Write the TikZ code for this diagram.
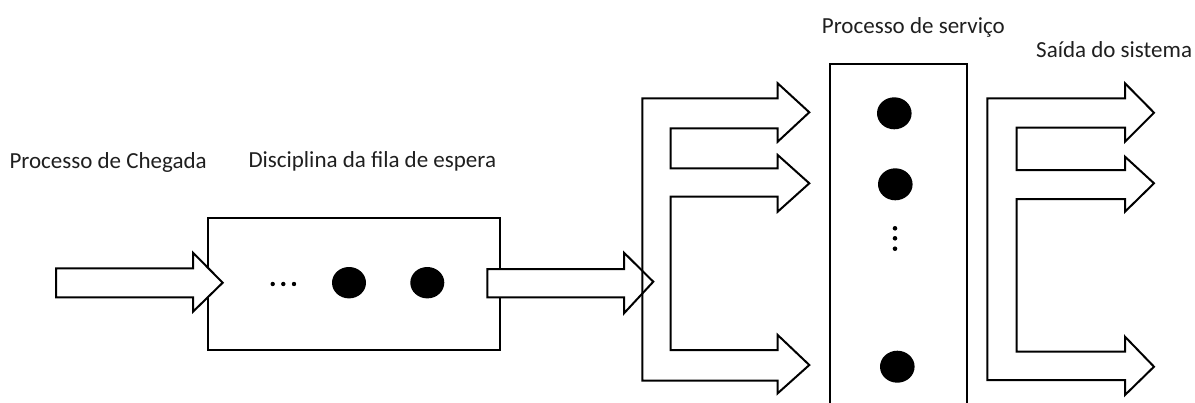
\documentclass[tikz,border=0pt]{standalone}
\usepackage{fontspec}
\setmainfont{Carlito}
\begin{document}
\begin{tikzpicture}[x=1pt,y=-1pt,
  outline/.style={draw=black,line width=2pt,line join=miter},
  blockarrow/.style={outline,fill=white},
  box/.style={outline,fill=white,inner sep=0pt,anchor=north west},
  token/.style={fill=black},
  label/.style={font=\fontsize{23}{27}\selectfont,text=black!88,inner sep=0pt,anchor=west}]
\useasboundingbox (0,0) rectangle (1195,402);

% labels
\node[label] (arrival) at (9.3,162.3) {Processo de Chegada};
\node[label] (discipline) at (248.3,161.7) {Disciplina da fila de espera};
\node[label] (service) at (821.7,27.5) {Processo de serviço};
\node[label] (departure) at (1036,49.5) {Saída do sistema};

% waiting line
\node[box,minimum width=292.3pt,minimum height=132pt] (queue) at (206.7,217.3) {};
\fill (272.7,284) circle (2.2) (283.3,284) circle (2.2) (294,284) circle (2.2);
\fill[token] (349,282.7) ellipse (17 and 15.7);
\fill[token] (427.3,282.7) ellipse (17 and 15.7);

% arrivals
\draw[blockarrow] (56,268.3) -- (193,268.3) -- (193,252.7) -- (222.7,282.7)
  -- (193,311.7) -- (193,297.3) -- (56,297.3) -- cycle;

% queue to servers
\draw[blockarrow] (487.3,269) -- (624,269) -- (624,252.7) -- (653.3,281.7)
  -- (624,313.3) -- (624,297.3) -- (487.3,297.3) -- cycle;

% split towards the servers
\draw[outline] (642.3,98.3) -- (777.7,98.3) -- (777.7,83.3) -- (809.3,112.3)
  -- (777.7,141.7) -- (777.7,128.3) -- (670.7,128.3) -- (670.7,168.3)
  -- (777.7,168.3) -- (777.7,155) -- (809.3,183.3) -- (777.7,211.7)
  -- (777.7,196.7) -- (670.7,196.7) -- (670.7,350) -- (777.7,350)
  -- (777.7,335) -- (809.3,365) -- (777.7,393.3) -- (777.7,380.7)
  -- (642.3,380.7) -- cycle;

% servers
\node[box,minimum width=136.7pt,minimum height=360pt] (server) at (829.3,63.3) {};
\fill[token] (894.3,113.3) ellipse (17.3 and 16);
\fill[token] (895.3,184.3) ellipse (17.3 and 16);
\fill (895,228.3) circle (2.3) (895,238.3) circle (2.3) (895,248.7) circle (2.3);
\fill[token] (897.3,366.7) ellipse (17.3 and 16);

% departures
\draw[outline] (987.3,98.3) -- (1125,98.3) -- (1125,83.3) -- (1154,112.7)
  -- (1125,141.7) -- (1125,127.7) -- (1016.7,127.7) -- (1016.7,170)
  -- (1125,170) -- (1125,156.7) -- (1154,183.3) -- (1125,211.7)
  -- (1125,199) -- (1016.7,199) -- (1016.7,351.7) -- (1125,351.7)
  -- (1125,336.7) -- (1154,366.7) -- (1125,395) -- (1125,380)
  -- (987.3,380) -- cycle;
\end{tikzpicture}
\end{document}
